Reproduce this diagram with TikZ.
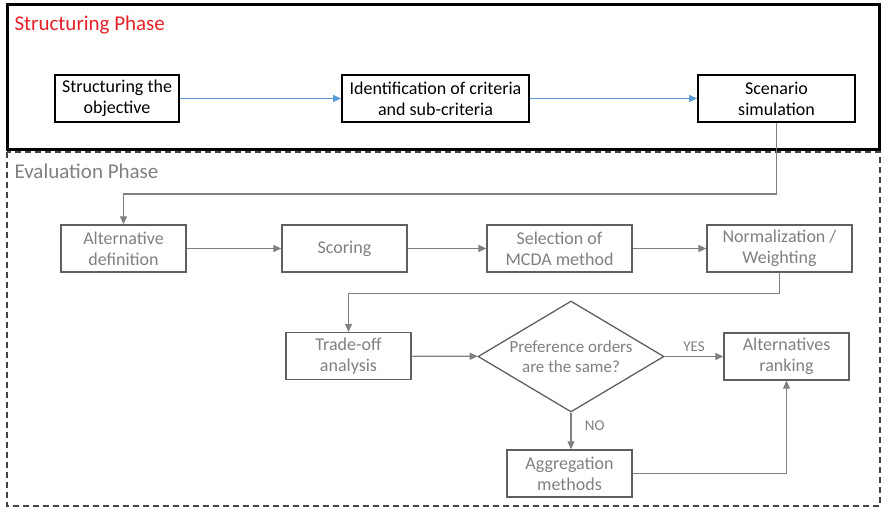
\documentclass[tikz,border=0pt]{standalone}
\usepackage{fontspec}
\setmainfont{Carlito}
\usepackage{tikz}
\usetikzlibrary{arrows.meta,shapes.geometric}

\definecolor{phasered}{RGB}{228,32,40}
\definecolor{evalgray}{RGB}{128,128,128}
\definecolor{boxgray}{RGB}{95,95,95}
\definecolor{linkblue}{RGB}{91,155,213}

\tikzset{
  sbox/.style={draw=black,line width=1.8pt,minimum height=47pt,align=center,
    inner sep=2pt,font=\fontsize{18}{21}\selectfont},
  ebox/.style={draw=boxgray,line width=1.3pt,minimum height=47pt,align=center,
    inner sep=2pt,text=evalgray,font=\fontsize{18}{21}\selectfont},
  barrow/.style={draw=linkblue,line width=1pt,-{Triangle[length=8pt,width=7pt]}},
  garrow/.style={draw=evalgray,line width=1.2pt,-{Triangle[length=8pt,width=7pt]}}
}

\begin{document}
\begin{tikzpicture}[x=1pt,y=-1pt]
\useasboundingbox (0,0) rectangle (882,508);

% frames
\draw[boxgray!70!black,line width=1.3pt,dash pattern=on 6pt off 4pt] (7,152) rectangle (880,506);
\draw[black,line width=3pt] (7,5) rectangle (879,149);
\node[anchor=west,text=phasered,font=\fontsize{21}{24}\selectfont] (sphase) at (11,25) {Structuring Phase};
\node[anchor=west,text=evalgray,font=\fontsize{21}{24}\selectfont] (ephase) at (11,171) {Evaluation Phase};

% structuring phase
\node[sbox,minimum width=124pt] (objective) at (117,98.5) {Structuring the\\objective};
\node[sbox,minimum width=187pt] (criteria) at (435.5,98.5) {Identification of criteria\\and sub-criteria};
\node[sbox,minimum width=157pt] (scenario) at (776.5,98.5) {Scenario\\simulation};

% evaluation phase
\node[ebox,minimum width=125pt] (altdef) at (123.5,248.5) {Alternative\\definition};
\node[ebox,minimum width=125pt] (scoring) at (344.5,248.5) {Scoring};
\node[ebox,minimum width=145pt] (mcda) at (559.5,248.5) {Selection of\\MCDA method};
\node[ebox,minimum width=145pt] (weight) at (779.5,248.5) {Normalization /\\Weighting};
\node[ebox,minimum width=125pt] (tradeoff) at (348.5,356) {Trade-off\\analysis};
\node[draw=boxgray,line width=1.3pt,diamond,aspect=1.68,inner sep=-2pt,
  minimum width=186pt,minimum height=111pt,align=center,text=evalgray,
  font=\fontsize{17}{20}\selectfont] (same) at (571,356.5) {Preference orders\\are the same?};
\node[ebox,minimum width=125pt] (ranking) at (786.5,356.5) {Alternatives\\ranking};
\node[ebox,minimum width=125pt] (aggreg) at (569.5,473.5) {Aggregation\\methods};

% connectors
\draw[barrow] (objective) -- (criteria);
\draw[barrow] (criteria) -- (scenario);
\draw[garrow] (scenario.south) -- ++(0,71) -| (altdef.north);
\draw[garrow] (altdef) -- (scoring);
\draw[garrow] (scoring) -- (mcda);
\draw[garrow] (mcda) -- (weight);
\draw[garrow] (weight.south) -- ++(0,21) -| (tradeoff.north);
\draw[garrow] (tradeoff) -- (same);
\draw[garrow] (same.east) -- node[above=1pt,text=evalgray,font=\fontsize{15}{17}\selectfont] (yes) {YES} (ranking.west);
\draw[garrow] (same.south) -- node[pos=0.35,right=10pt,text=evalgray,font=\fontsize{15}{17}\selectfont] (no) {NO} (same.south |- aggreg.north);
\draw[garrow] (aggreg.east) -| (ranking.south);
\end{tikzpicture}
\end{document}
